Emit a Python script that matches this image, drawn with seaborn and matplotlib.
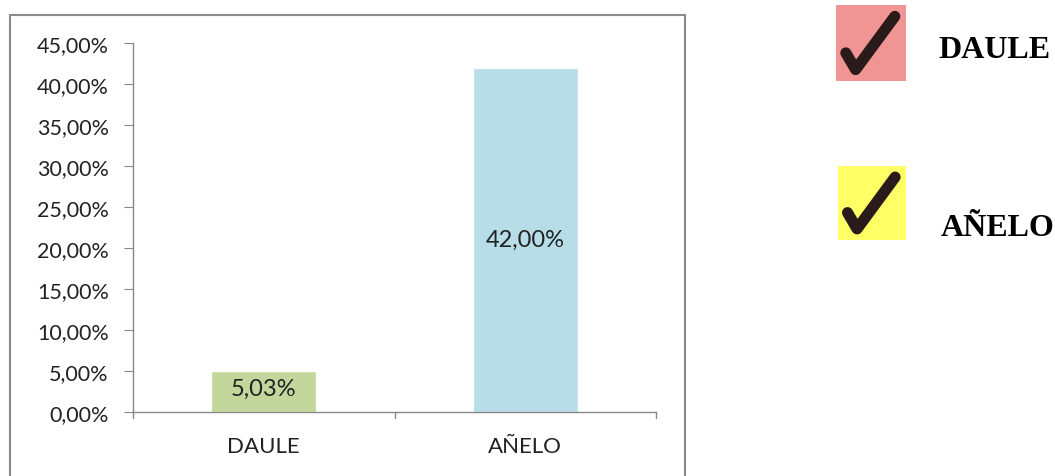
import matplotlib.pyplot as plt
import matplotlib.patches as mpatches
from matplotlib.lines import Line2D
import seaborn as sns
import pandas as pd

categorias = ["DAULE", "AÑELO"]
valores = [5.03, 42.00]
colores_barras = ["#C3D69B", "#B7DDE8"]
leyenda_textos = ["DAULE", "AÑELO"]
leyenda_colores = ["#F19594", "#FFFF66"]

df = pd.DataFrame({"zona": categorias, "valor": valores})

sns.set_style("white")
plt.rcParams["font.family"] = ["Lato", "DejaVu Sans"]

W, H = 1055, 477
fig = plt.figure(figsize=(W / 100, H / 100), dpi=100)
ax = fig.add_axes([133 / W, 1 - 413 / H, (656 - 133) / W, (413 - 44) / H])

sns.barplot(data=df, x="zona", y="valor", hue="zona", palette=colores_barras,
            width=0.4, legend=False, ax=ax, saturation=1)

ax.set_ylim(0, 45)
ax.set_xlim(-0.5, 1.5)
ticks = list(range(0, 50, 5))
ax.set_yticks(ticks)
ax.set_yticklabels([f"{t:.2f}%".replace(".", ",") for t in ticks], fontsize=15.5, color="#222222")
ax.set_xticks([0, 1])
ax.set_xticklabels(categorias, fontsize=16, color="#222222")
ax.tick_params(axis="x", length=0, pad=17)
ax.tick_params(axis="y", length=6.5, color="#888888", direction="out", left=True, pad=11)
# separadores de categoria en el eje x
for xb in [-0.5, 0.5, 1.5]:
    ax.plot([xb, xb], [0, -0.75], color="#888888", lw=1, clip_on=False)
ax.set_xlabel("")
ax.set_ylabel("")
for s in ["top", "right"]:
    ax.spines[s].set_visible(False)
for s in ["left", "bottom"]:
    ax.spines[s].set_color("#888888")
    ax.spines[s].set_linewidth(1)

for i, v in enumerate(valores):
    ax.text(i, v / 2 if v > 10 else v - 2.2, f"{v:.2f}%".replace(".", ","),
            ha="center", va="center", fontsize=17, color="#222222")

# marco del grafico
fig.patches.append(mpatches.Rectangle((10 / W, -0.01), 675 / W, 1 - 16 / H + 0.01,
                                      transform=fig.transFigure, fill=False,
                                      edgecolor="#8a8a8a", lw=1.5))

# leyenda con marcas de verificacion
cajas = [(836, 6, 70, 76), (838, 167, 68, 74)]
pos_texto = [(938, 51), (941, 229)]
for (x0, y0, w, h), c, t, (tx, ty) in zip(cajas, leyenda_colores, leyenda_textos, pos_texto):
    fig.patches.append(mpatches.Rectangle((x0 / W, 1 - (y0 + h) / H), w / W, h / H,
                                          transform=fig.transFigure, color=c, lw=0))
    fx = [0.14, 0.28, 0.84]
    fy = [0.37, 0.15, 0.85]
    xs = [(x0 + f * w) / W for f in fx]
    ys = [1 - (y0 + h) / H + f * h / H for f in fy]
    fig.lines.append(Line2D(xs, ys, transform=fig.transFigure, color="#2a1a1a",
                            lw=8, solid_capstyle="round", solid_joinstyle="round"))
    fig.text(tx / W, 1 - ty / H, t, fontsize=23, family="Liberation Serif",
             fontweight="bold", color="black", ha="left", va="center")

fig.savefig("out.png", dpi=100)
